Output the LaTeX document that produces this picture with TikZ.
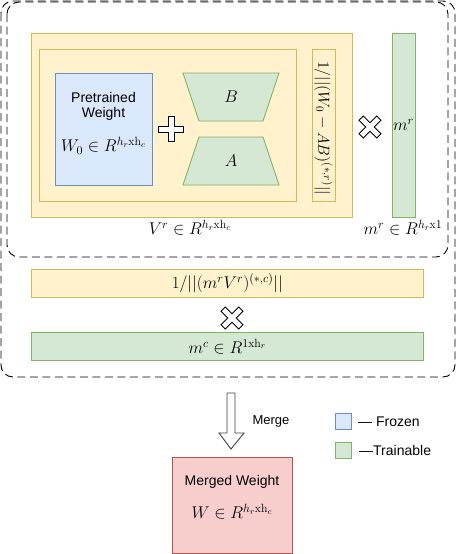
\RequirePackage{fix-cm}
\documentclass[tikz,border=0pt]{standalone}
\usepackage{amsmath}
\usepackage{fontspec}
\newfontfamily\labelfont{Liberation Sans}
\usepackage{tikz}
\usetikzlibrary{positioning}
\usetikzlibrary{calc}

\definecolor{yfill}{HTML}{FFF2CC}
\definecolor{ydraw}{HTML}{D6B656}
\definecolor{bfill}{HTML}{DAE8FC}
\definecolor{bdraw}{HTML}{6C8EBF}
\definecolor{gfill}{HTML}{D5E8D4}
\definecolor{gdraw}{HTML}{82B366}
\definecolor{rfill}{HTML}{F8CECC}
\definecolor{rdraw}{HTML}{B85450}

\tikzset{
	box/.style={draw,line width=0.8pt,inner sep=0pt,anchor=north west},
	yellowbox/.style={box,fill=yfill,draw=ydraw},
	bluebox/.style={box,fill=bfill,draw=bdraw},
	greenbox/.style={box,fill=gfill,draw=gdraw},
	redbox/.style={box,fill=rfill,draw=rdraw},
	trap/.style={fill=gfill,draw=gdraw,line width=0.8pt},
	dashbox/.style={draw=black,line width=0.9pt,dash pattern=on 8pt off 4.5pt,rounded corners=12pt},
	symb/.style={draw=black,fill=white,line width=0.9pt,line join=miter},
	sans/.style={font=\labelfont\fontsize{14}{17}\selectfont,inner sep=1pt},
	mathtxt/.style={font=\fontsize{17}{20}\selectfont,inner sep=1pt}
}

\begin{document}
\begin{tikzpicture}[x=1pt,y=-1pt]
		\useasboundingbox (0,0) rectangle (456,554);
		% dashed groups
		\draw[dashbox] (1,1) rectangle (455,377);
		\draw[dashbox] (7,2) rectangle (448,257);
		% V^r block
		\node[yellowbox,minimum width=321pt,minimum height=184pt] (vr) at (31,33) {};
		\node[yellowbox,minimum width=257pt,minimum height=152pt] (lora) at (39,49) {};
		\node[bluebox,minimum width=97pt,minimum height=112pt] (w0) at (55,73) {};
		\node[sans] (pre) at (103.5,97) {Pretrained};
		\node[sans] (wt) at (103.5,114) {Weight};
		\node[mathtxt] (w0txt) at (103.5,146) {$W_0 \in R^{h_r\mathrm{xh}_c}$};
		% B and A
		\draw[trap] (183,73) -- (279,73) -- (263,121) -- (199,121) -- cycle;
		\draw[trap] (199,137) -- (263,137) -- (279,185) -- (183,185) -- cycle;
		\node[mathtxt] (btxt) at (231,97) {$B$};
		\node[mathtxt] (atxt) at (231,161) {$A$};
		% plus
		\draw[symb,shift={(171,129)}] (-3,-12.5) -- (3,-12.5) -- (3,-3) -- (12.5,-3) -- (12.5,3) -- (3,3) -- (3,12.5) -- (-3,12.5) -- (-3,3) -- (-12.5,3) -- (-12.5,-3) -- (-3,-3) -- cycle;
		% norm over rows
		\node[yellowbox,minimum width=23pt,minimum height=152pt] (nr) at (312,49) {};
		\node[mathtxt,font=\fontsize{16}{19}\selectfont,rotate=-90] (nrtxt) at (323.5,128) {$1/||(W_0-AB)^{(*,r)}||$};
		% times
		\draw[symb,shift={(370,127)},rotate=45] (-3,-12.5) -- (3,-12.5) -- (3,-3) -- (12.5,-3) -- (12.5,3) -- (3,3) -- (3,12.5) -- (-3,12.5) -- (-3,3) -- (-12.5,3) -- (-12.5,-3) -- (-3,-3) -- cycle;
		% m^r
		\node[greenbox,minimum width=23pt,minimum height=184pt] (mr) at (392,33) {};
		\node[mathtxt] (mrtxt) at (403.5,125) {$m^r$};
		\node[mathtxt] (vrlbl) at (190,228) {$V^r \in R^{h_r\mathrm{xh}_c}$};
		\node[mathtxt] (mrlbl) at (403,228) {$m^r \in R^{h_r\mathrm{x}1}$};
		% column norm and m^c
		\node[yellowbox,minimum width=392pt,minimum height=28pt] (nc) at (31,269) {};
		\node[mathtxt] (nctxt) at (nc.center) {$1/||(m^rV^r)^{(*,c)}||$};
		\draw[symb,shift={(232,318)},rotate=45] (-3,-12.5) -- (3,-12.5) -- (3,-3) -- (12.5,-3) -- (12.5,3) -- (3,3) -- (3,12.5) -- (-3,12.5) -- (-3,3) -- (-12.5,3) -- (-12.5,-3) -- (-3,-3) -- cycle;
		\node[greenbox,minimum width=392pt,minimum height=28pt] (mc) at (31,332) {};
		\node[mathtxt] (mctxt) at (mc.center) {$m^c \in R^{1\mathrm{xh}_r}$};
		% merge
		\node[redbox,minimum width=120pt,minimum height=96pt] (merged) at (172,457) {};
		\node[sans] (mwtxt) at (232,482) {Merged Weight};
		\node[mathtxt] (wtxt) at (232,512) {$W \in R^{h_r\mathrm{xh}_c}$};
		\coordinate (arrtop) at (231,393);
		\coordinate (arrtip) at (231,449);
		\draw[draw=black!75,fill=white,line width=0.9pt] ($(arrtop)+(-4,0)$) -- ($(arrtop)+(4,0)$) -- ($(arrtip)+(4,-16)$) -- ($(arrtip)+(13,-16)$) -- (arrtip) -- ($(arrtip)+(-12,-16)$) -- ($(arrtip)+(-4,-16)$) -- cycle;
		\node[sans,font=\labelfont\fontsize{13}{15}\selectfont] (mergetxt) at (271,421) {Merge};
		% legend
		\node[bluebox,minimum width=16pt,minimum height=16pt] (lfrozen) at (335,413) {};
		\node[sans,anchor=west] (tfrozen) at (357,422) {— Frozen};
		\node[greenbox,minimum width=16pt,minimum height=16pt] (ltrain) at (335,442) {};
		\node[sans,anchor=west] (ttrain) at (358,450) {—Trainable};
	\end{tikzpicture}
\end{document}
